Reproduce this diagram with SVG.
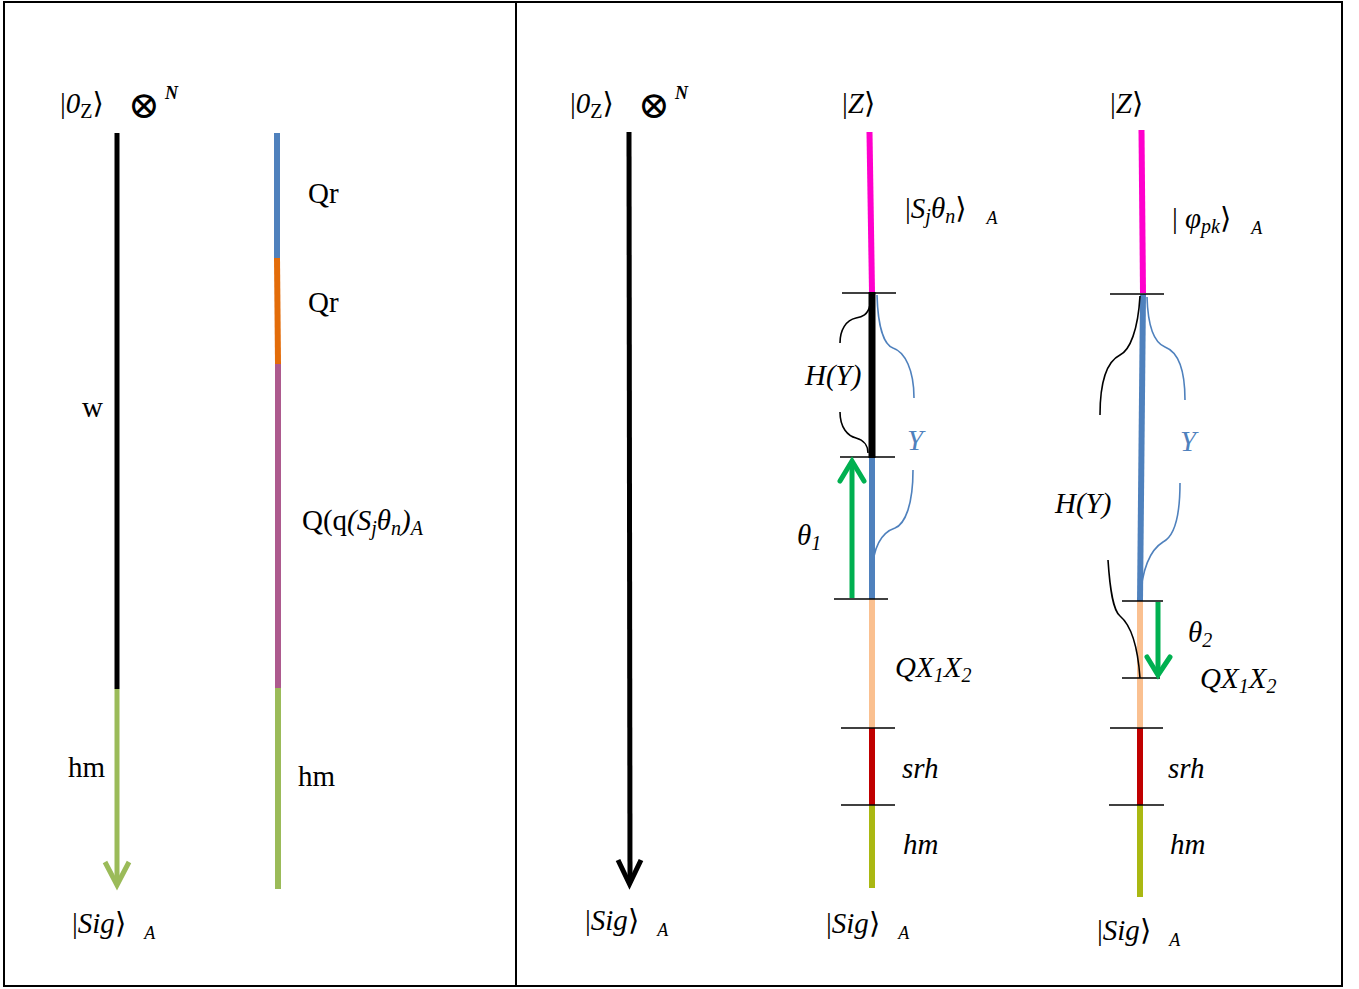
<svg xmlns="http://www.w3.org/2000/svg" width="1359" height="989" viewBox="0 0 1359 989">
<style>
text{font-family:"Liberation Serif","DejaVu Serif",serif;font-size:29px;fill:#000}
.i{font-style:italic}
.sub{font-size:20px}
.sa{font-size:18px;font-style:italic}
.sym{font-family:"DejaVu Serif","Liberation Serif",serif;font-weight:normal}
.ot{font-family:"DejaVu Serif","DejaVu Sans",serif;font-size:38px}
.sn{font-style:italic;font-weight:bold;font-size:18px}
.ln{fill:none;stroke-linecap:butt}
.tick{stroke:#000;stroke-width:1.6}
.brk{fill:none;stroke:#000;stroke-width:1.6}
.brb{fill:none;stroke:#4F81BD;stroke-width:1.6}
</style>
<rect x="4" y="2" width="1338" height="984" fill="#fff" stroke="#000" stroke-width="2"/>
<line x1="516" y1="2" x2="516" y2="986" stroke="#000" stroke-width="2"/>

<g id="left-panel">
  <text x="60" y="113">|<tspan class="i">0</tspan><tspan class="sub" dy="5">Z</tspan><tspan class="sym" dy="-5">⟩</tspan></text>
  <text class="ot" x="128" y="118">⊗</text>
  <text class="sn" x="165" y="99">N</text>
  <line class="ln" x1="117" y1="133" x2="117" y2="689" stroke="#000" stroke-width="5"/>
  <line class="ln" x1="117" y1="689" x2="117" y2="884" stroke="#9BBB59" stroke-width="5"/>
  <polyline points="105,862 117,885 129,862" fill="none" stroke="#9BBB59" stroke-width="5"/>
  <text x="82" y="417">w</text>
  <text x="68" y="777">hm</text>
  <text x="72" y="933">|<tspan class="i">Sig</tspan><tspan class="sym">⟩</tspan><tspan class="sa" dx="18" dy="6">A</tspan></text>

  <line class="ln" x1="277" y1="133" x2="277" y2="258" stroke="#4F81BD" stroke-width="6"/>
  <line class="ln" x1="277" y1="258" x2="278" y2="364" stroke="#E36C09" stroke-width="6"/>
  <line class="ln" x1="278" y1="364" x2="278" y2="688" stroke="#AD5A8E" stroke-width="6"/>
  <line class="ln" x1="278" y1="688" x2="278" y2="889" stroke="#9BBB59" stroke-width="6"/>
  <text x="308" y="203">Qr</text>
  <text x="308" y="312">Qr</text>
  <text x="302" y="530">Q(q<tspan class="i">(S</tspan><tspan class="sub i" dy="5">j</tspan><tspan class="i" dy="-5">θ</tspan><tspan class="sub i" dy="5">n</tspan><tspan class="i" dy="-5">)</tspan><tspan class="sub i" dy="5">A</tspan></text>
  <text x="298" y="786">hm</text>
</g>

<g id="col-main">
  <text x="570" y="113">|<tspan class="i">0</tspan><tspan class="sub" dy="5">Z</tspan><tspan class="sym" dy="-5">⟩</tspan></text>
  <text class="ot" x="638" y="118">⊗</text>
  <text class="sn" x="675" y="99">N</text>
  <line class="ln" x1="629" y1="132" x2="630" y2="882" stroke="#000" stroke-width="5"/>
  <polyline points="618,860 629.5,884 641,860" fill="none" stroke="#000" stroke-width="5"/>
  <text x="585" y="930">|<tspan class="i">Sig</tspan><tspan class="sym">⟩</tspan><tspan class="sa" dx="18" dy="6">A</tspan></text>
</g>

<g id="col-1">
  <text x="842" y="113">|<tspan class="i">Z</tspan><tspan class="sym">⟩</tspan></text>
  <line class="ln" x1="869.5" y1="132" x2="872" y2="292" stroke="#FF00CC" stroke-width="6"/>
  <text x="905" y="218">|<tspan class="i">S</tspan><tspan class="sub i" dy="5">j</tspan><tspan class="i" dy="-5">θ</tspan><tspan class="sub i" dy="5">n</tspan><tspan class="sym" dy="-5">⟩</tspan><tspan class="sa" dx="20" dy="6">A</tspan></text>
  <line class="ln" x1="872" y1="292" x2="872" y2="458" stroke="#000" stroke-width="7"/>
  <line class="ln" x1="872" y1="458" x2="872" y2="599" stroke="#4F81BD" stroke-width="6"/>
  <line class="ln" x1="872" y1="599" x2="872" y2="728" stroke="#FAC090" stroke-width="6"/>
  <line class="ln" x1="872" y1="728" x2="872" y2="805" stroke="#C00000" stroke-width="6"/>
  <line class="ln" x1="872" y1="805" x2="872" y2="888" stroke="#AAB812" stroke-width="6"/>
  <line class="tick" x1="842" y1="293" x2="896" y2="293"/>
  <line class="tick" x1="840" y1="457" x2="895" y2="457"/>
  <line class="tick" x1="834" y1="599" x2="888" y2="599"/>
  <line class="tick" x1="841" y1="728" x2="895" y2="728"/>
  <line class="tick" x1="841" y1="805" x2="895" y2="805"/>
  <path class="brk" d="M870,305 C868,315 862,317 856,318 C846,320 840,330 840,343"/>
  <path class="brk" d="M840,412 C840,428 848,436 856,438 C864,440 868,446 868,453"/>
  <path class="brb" d="M877,295 C878,330 885,345 893,348 C905,352 914,370 914,398"/>
  <path class="brb" d="M913,470 C913,505 905,524 895,528 C880,533 873,550 872,573"/>
  <line x1="852" y1="598" x2="852" y2="462" stroke="#00B050" stroke-width="5"/>
  <polyline points="840,481 852,461 864,481" fill="none" stroke="#00B050" stroke-width="5" stroke-linecap="round"/>
  <text class="i" x="805" y="385" font-size="24">H(Y)</text>
  <text class="i" x="907" y="450" font-size="31" style="fill:#4F81BD">Y</text>
  <text class="i" x="797" y="545">θ<tspan class="sub" dy="5">1</tspan></text>
  <text class="i" x="895" y="677">QX<tspan class="sub" dy="5">1</tspan><tspan dy="-5">X</tspan><tspan class="sub" dy="5">2</tspan></text>
  <text class="i" x="902" y="778">srh</text>
  <text class="i" x="903" y="854">hm</text>
  <text x="826" y="933">|<tspan class="i">Sig</tspan><tspan class="sym">⟩</tspan><tspan class="sa" dx="18" dy="6">A</tspan></text>
</g>

<g id="col-2">
  <text x="1110" y="113">|<tspan class="i">Z</tspan><tspan class="sym">⟩</tspan></text>
  <line class="ln" x1="1141.5" y1="130" x2="1143" y2="293" stroke="#FF00CC" stroke-width="6"/>
  <text x="1172" y="228">| <tspan class="i">φ</tspan><tspan class="sub i" dy="5">pk</tspan><tspan class="sym" dy="-5">⟩</tspan><tspan class="sa" dx="20" dy="6">A</tspan></text>
  <line class="ln" x1="1143" y1="294" x2="1140" y2="601" stroke="#4F81BD" stroke-width="6"/>
  <line class="ln" x1="1140" y1="601" x2="1140" y2="728" stroke="#FAC090" stroke-width="6"/>
  <line class="ln" x1="1140" y1="728" x2="1140" y2="805" stroke="#C00000" stroke-width="6"/>
  <line class="ln" x1="1140" y1="805" x2="1140" y2="897" stroke="#AAB812" stroke-width="6"/>
  <line class="tick" x1="1110" y1="294" x2="1164" y2="294"/>
  <line class="tick" x1="1122" y1="601" x2="1163" y2="601"/>
  <line class="tick" x1="1122" y1="678" x2="1160" y2="678"/>
  <line class="tick" x1="1110" y1="728" x2="1163" y2="728"/>
  <line class="tick" x1="1109" y1="805" x2="1164" y2="805"/>
  <path class="brk" d="M1140,296 C1138,330 1130,350 1120,355 C1106,362 1100,385 1100,415"/>
  <path class="brk" d="M1108,560 C1110,590 1113,610 1120,616 C1132,626 1138,650 1140,678"/>
  <path class="brb" d="M1147,297 C1148,330 1155,343 1165,347 C1178,352 1185,370 1185,400"/>
  <path class="brb" d="M1180,483 C1180,515 1175,536 1163,542 C1150,550 1142,570 1140,600"/>
  <line x1="1158" y1="602" x2="1158" y2="674" stroke="#00B050" stroke-width="5"/>
  <polyline points="1147,657 1158,675 1170,657" fill="none" stroke="#00B050" stroke-width="5" stroke-linecap="round"/>
  <text class="i" x="1055" y="513" font-size="24">H(Y)</text>
  <text class="i" x="1180" y="451" font-size="31" style="fill:#4F81BD">Y</text>
  <text class="i" x="1188" y="642">θ<tspan class="sub" dy="5">2</tspan></text>
  <text class="i" x="1200" y="688">QX<tspan class="sub" dy="5">1</tspan><tspan dy="-5">X</tspan><tspan class="sub" dy="5">2</tspan></text>
  <text class="i" x="1168" y="778">srh</text>
  <text class="i" x="1170" y="854">hm</text>
  <text x="1097" y="940">|<tspan class="i">Sig</tspan><tspan class="sym">⟩</tspan><tspan class="sa" dx="18" dy="6">A</tspan></text>
</g>
</svg>
